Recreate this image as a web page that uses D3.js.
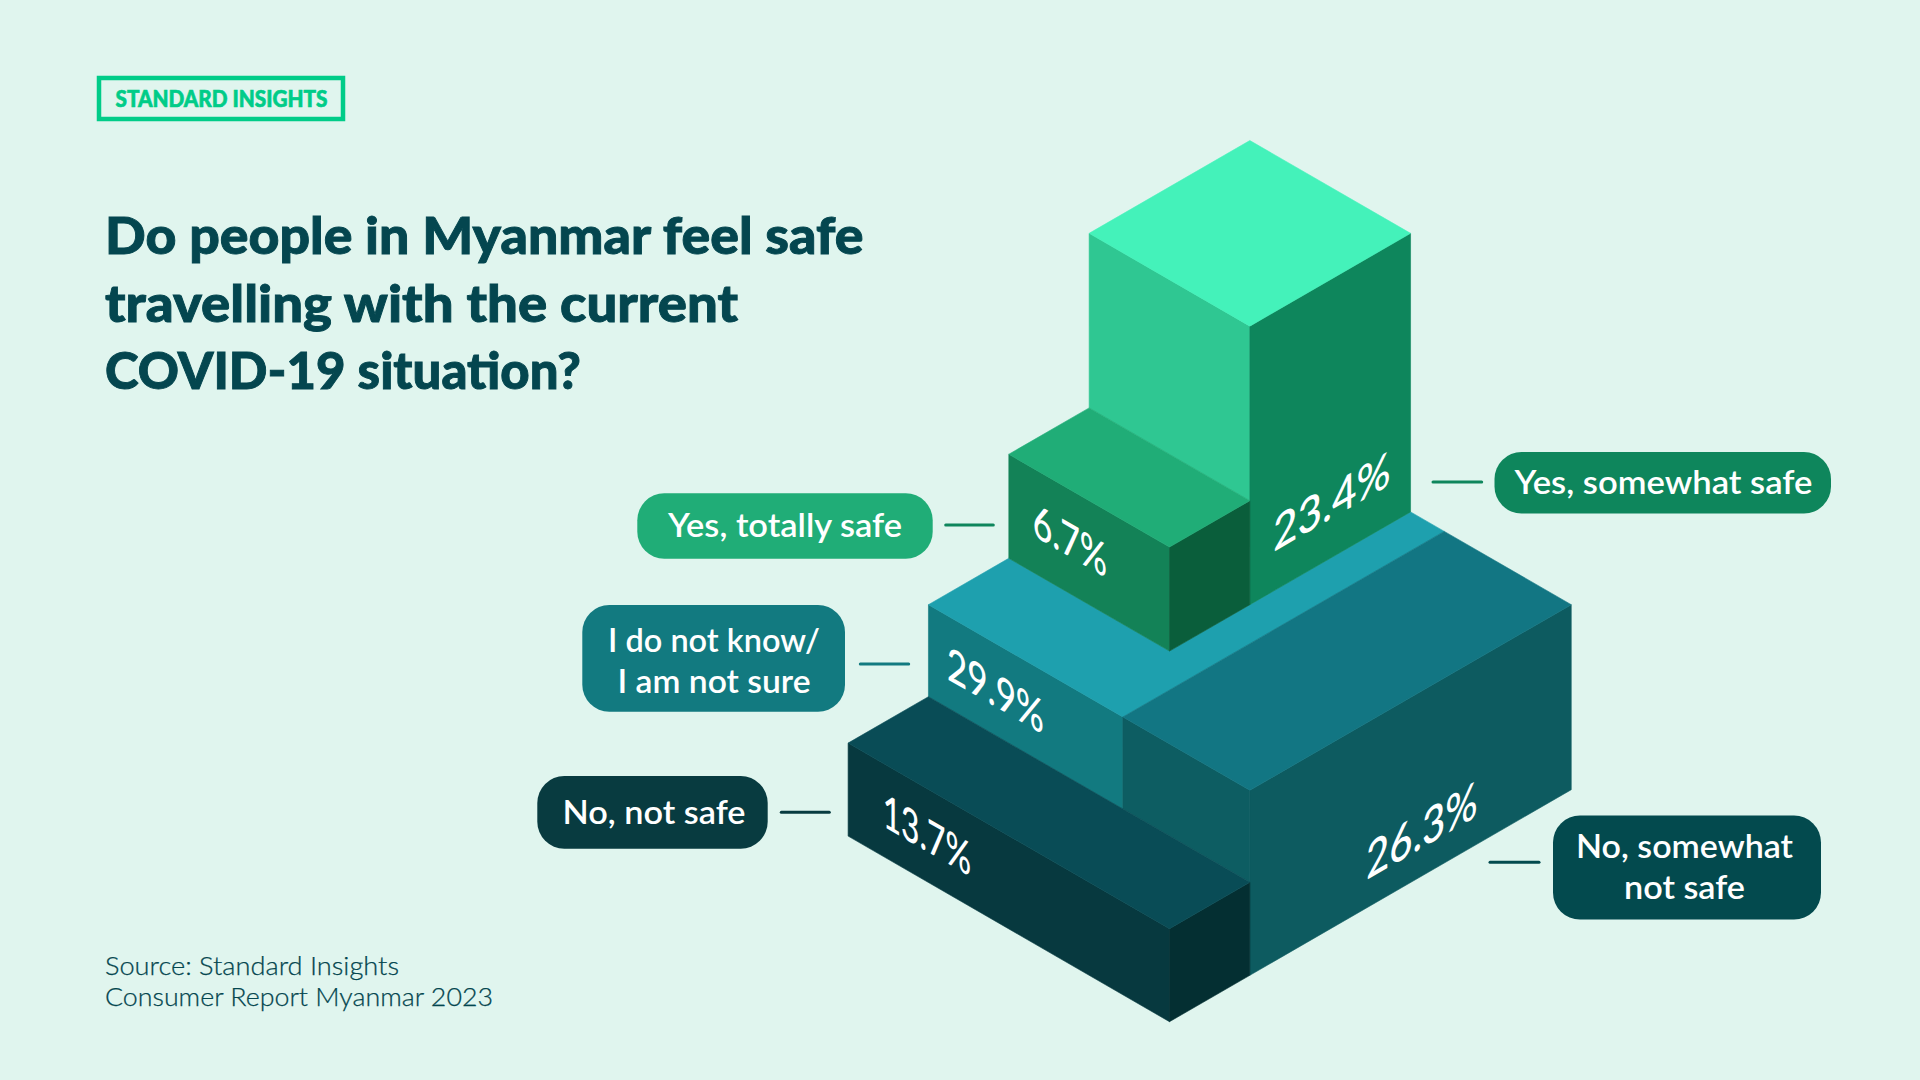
<!DOCTYPE html>
<html><head><meta charset="utf-8">
<script src="https://cdn.jsdelivr.net/npm/d3@7/dist/d3.min.js"></script>
<style>html,body{margin:0;padding:0;background:#e0f5ee;overflow:hidden}svg{display:block}</style>
</head><body><svg id="c" width="1920" height="1080"></svg>
<script>
// ---- data ----
const categories = ["Yes, totally safe", "Yes, somewhat safe", "I do not know/ I am not sure", "No, somewhat not safe", "No, not safe"];
const values = [6.7, 23.4, 29.9, 26.3, 13.7];
const titleLines = ["Do people in Myanmar feel safe", "travelling with the current", "COVID-19 situation?"];
const sourceLines = ["Source: Standard Insights", "Consumer Report Myanmar 2023"];
const brand = "STANDARD INSIGHTS";

// ---- isometric scales ----
const xIso = d3.scaleLinear().domain([0, 1]).range([1169.5, 1249.85]);   // u - v
const yIso = d3.scaleLinear().domain([0, 1]).range([1021.7, 975.3]);     // u + v
const wScale = d3.scaleLinear().domain([0, 30]).range([0, 186]);         // percent -> pixels of rise
const project = (u, v, w) => [xIso(u - v), yIso(u + v) - w];

// the source stretches each step freely, so every step has its own rise factor
const rise = [2.504, 1.92, 0.998, 1.1346, 1.095];
const h = values.map((d, i) => wScale(d) * rise[i]);
const [hSmall, hTall, hTeal, hMid, hDark] = h;
const base = hTeal;

const svg = d3.select("#c");
svg.append("rect").attr("width", 1920).attr("height", 1080).attr("fill", "#e0f5ee");

const line = d3.line();
const face = (pts, fill) => svg.append("path")
  .attr("d", line(pts.map(p => project(...p))) + "Z")
  .attr("fill", fill).attr("stroke", fill).attr("stroke-width", 0.6).attr("stroke-linejoin", "round");
const quadU = (u, v0, v1, w0, w1) => [[u, v0, w0], [u, v1, w0], [u, v1, w1], [u, v0, w1]];
const quadV = (v, u0, u1, w0, w1) => [[u0, v, w0], [u1, v, w0], [u1, v, w1], [u0, v, w1]];
const quadW = (w, u0, u1, v0, v1) => [[u0, v0, w], [u1, v0, w], [u1, v1, w], [u0, v1, w]];

// teal step
face(quadU(1, 1.58, 4, hDark, base), "#127a80");
face([[5, 2, base], [5, 1.58, base], [1, 1.58, base], [1, 4, base], [2, 4, base], [2, 2, base]], "#1ea0ae");
// mid step
face(quadU(1, 0, 1.58, hDark, base), "#0d5d62");
face(quadV(0, 1, 5, 0, base), "#0d5b60");
face(quadW(base, 1, 5, 0, 1.58), "#127683");
// dark step
face(quadU(0, 0, 4, 0, hDark), "#07393f");
face(quadV(0, 0, 1, 0, hDark), "#042f32");
face(quadW(hDark, 0, 1, 0, 4), "#094c56");
// tall step
face(quadU(3, 2, 4, base + hSmall, base + hTall), "#2fc792");
face(quadV(2, 3, 5, base, base + hTall), "#0e865c");
face(quadW(base + hTall, 3, 5, 2, 4), "#44f2ba");
// small step
face(quadU(2, 2, 4, base, base + hSmall), "#138257");
face(quadV(2, 2, 3, base, base + hSmall), "#0a5e3b");
face(quadW(base + hSmall, 2, 3, 2, 4), "#20ad77");

// ---- skewed value labels ----
const labelFont = "Lato, 'Noto Sans', sans-serif";
const valueSpots = [
  { p: [2, 3.24, 238.6], dir: 1, len: 86, fs: 47 },
  { p: [4.02, 2, 241.4], dir: -1, len: 136, fs: 48 },
  { p: [1, 3.166, 138.4], dir: 1, len: 112, fs: 47 },
  { p: [3.14, 0, 45.9], dir: -1, len: 129, fs: 50 },
  { p: [0, 3.02, 47], dir: 1, len: 102, fs: 47 }
];
values.forEach((d, i) => {
  const s = valueSpots[i], [x, y] = project(...s.p);
  svg.append("text").text(d + "%")
    .attr("transform", `matrix(0.866,${0.5 * s.dir},0,1,${x},${y})`)
    .attr("text-anchor", "middle").attr("dy", "0.36em")
    .attr("font-family", labelFont).attr("font-size", s.fs).attr("font-weight", 500)
    .attr("fill", "#fff").attr("textLength", s.len).attr("lengthAdjust", "spacingAndGlyphs");
});

// ---- pills + connectors ----
const pills = [
  { x0: 637.3, x1: 932.7, y0: 493.3, y1: 558.7, fill: "#20ad77", lx0: 945.7, lx1: 993.3, ly: 525, lc: "#0e865c", lines: ["Yes, totally safe"], w: [234], tx: 785, cy: [525] },
  { x0: 1494.5, x1: 1831, y0: 452, y1: 513.5, fill: "#0e865c", lx0: 1433, lx1: 1481.7, ly: 482, lc: "#0e865c", lines: ["Yes, somewhat safe"], w: [298], tx: 1663.5, cy: [482] },
  { x0: 582.3, x1: 845, y0: 605, y1: 711.7, fill: "#127a80", lx0: 860.3, lx1: 908.7, ly: 664, lc: "#127a80", lines: ["I do not know/", "I am not sure"], w: [212, 193], tx: 714, cy: [640, 681.5] },
  { x0: 1553, x1: 1821, y0: 815.5, y1: 919.6, fill: "#034a4e", lx0: 1490, lx1: 1539, ly: 862.3, lc: "#034a4e", lines: ["No, somewhat", "not safe"], w: [217, 121], tx: 1684.5, cy: [846, 887] },
  { x0: 537.3, x1: 767.7, y0: 776, y1: 848.7, fill: "#083b40", lx0: 781.3, lx1: 829.3, ly: 812.3, lc: "#083b40", lines: ["No, not safe"], w: [183], tx: 654, cy: [812] }
];
pills.forEach(p => {
  svg.append("rect").attr("x", p.x0).attr("y", p.y0).attr("width", p.x1 - p.x0).attr("height", p.y1 - p.y0)
    .attr("rx", 27).attr("fill", p.fill);
  svg.append("line").attr("x1", p.lx0).attr("x2", p.lx1).attr("y1", p.ly).attr("y2", p.ly)
    .attr("stroke", p.lc).attr("stroke-width", 3).attr("stroke-linecap", "round");
  p.lines.forEach((t, j) => {
    svg.append("text").text(t).attr("x", p.tx).attr("y", p.cy[j]).attr("dy", "0.35em")
      .attr("text-anchor", "middle").attr("font-family", labelFont).attr("font-size", 33).attr("font-weight", 600)
      .attr("fill", "#fff").attr("textLength", p.w[j]).attr("lengthAdjust", "spacingAndGlyphs");
  });
});

// ---- header / footer ----
svg.append("rect").attr("x", 99).attr("y", 78).attr("width", 244).attr("height", 41)
  .attr("fill", "none").attr("stroke", "#00cc88").attr("stroke-width", 4.5);
svg.append("text").text(brand).attr("x", 115.5).attr("y", 106.5)
  .attr("font-family", labelFont).attr("font-size", 22).attr("font-weight", 900).attr("fill", "#00cc88")
  .attr("stroke", "#00cc88").attr("stroke-width", 0.6)
  .attr("textLength", 212).attr("lengthAdjust", "spacingAndGlyphs");

const titleW = [758.5, 633, 476], titleY = [253.7, 321.7, 389.3];
titleLines.forEach((t, i) => svg.append("text").text(t).attr("x", 105).attr("y", titleY[i])
  .attr("font-family", "Lato, sans-serif").attr("font-size", 51).attr("font-weight", 900).attr("fill", "#04464f")
  .attr("stroke", "#04464f").attr("stroke-width", 0.9)
  .attr("textLength", titleW[i]).attr("lengthAdjust", "spacingAndGlyphs"));

const srcW = [294, 388], srcY = [975, 1006];
sourceLines.forEach((t, i) => svg.append("text").text(t).attr("x", 105).attr("y", srcY[i])
  .attr("font-family", labelFont).attr("font-size", 26).attr("font-weight", 300).attr("fill", "#04464f")
  .attr("stroke", "#04464f").attr("stroke-width", 0.25)
  .attr("textLength", srcW[i]).attr("lengthAdjust", "spacingAndGlyphs"));
</script></body></html>
